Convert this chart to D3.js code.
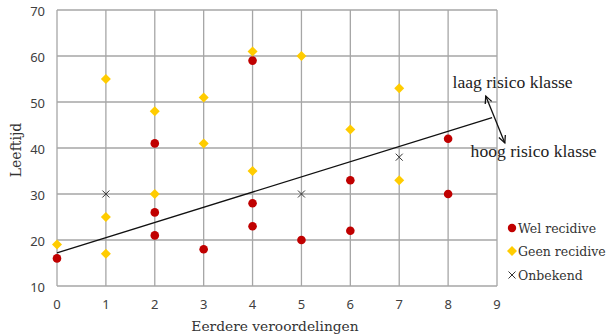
<!DOCTYPE html>
<html><head><meta charset="utf-8">
<script src="https://cdn.jsdelivr.net/npm/d3@7"></script>
<style>body{margin:0;background:#fff}svg{display:block}</style>
</head><body>
<svg id="c" width="609" height="336"></svg>
<script>
// Data
const welX = [0, 2, 2, 2, 3, 4, 4, 4, 5, 6, 6, 8, 8];
const welY = [16, 41, 26, 21, 18, 59, 28, 23, 20, 33, 22, 42, 30];
const geenX = [0, 1, 1, 1, 2, 2, 3, 3, 4, 4, 5, 6, 7, 7];
const geenY = [19, 55, 25, 17, 48, 30, 51, 41, 61, 35, 60, 44, 53, 33];
const onbX = [1, 5, 7];
const onbY = [30, 30, 38];
const trendX = [0, 8.9];
const trendY = [17.2, 46.6];
const xTicks = [0,1,2,3,4,5,6,7,8,9];
const yTicks = [10,20,30,40,50,60,70];
const legendLabels = ["Wel recidive", "Geen recidive", "Onbekend"];

const svg = d3.select("#c");
const x = d3.scaleLinear().domain([0, 9]).range([57, 497]);
const y = d3.scaleLinear().domain([10, 70]).range([286, 10]);
const grid = "#a6a6a6";
const RED = "#c00000", YEL = "#ffcc00", DARK = "#333";

// grid
svg.append("g").selectAll("line").data(xTicks).join("line")
  .attr("x1", d => x(d)).attr("x2", d => x(d)).attr("y1", y(10)).attr("y2", y(70))
  .attr("stroke", grid).attr("stroke-width", 1.3);
svg.append("g").selectAll("line").data(yTicks).join("line")
  .attr("y1", d => y(d)).attr("y2", d => y(d)).attr("x1", x(0)).attr("x2", x(9))
  .attr("stroke", grid).attr("stroke-width", 1.3);

// tick labels
const tickFont = "'Noto Sans', sans-serif";
svg.append("g").selectAll("text").data(yTicks).join("text")
  .attr("x", 45).attr("y", d => y(d) + 6).attr("text-anchor", "end")
  .attr("font-family", tickFont).attr("font-size", 13).attr("fill", "#404040").text(d => d);
svg.append("g").selectAll("text").data(xTicks).join("text")
  .attr("x", d => x(d)).attr("y", 309).attr("text-anchor", "middle")
  .attr("font-family", tickFont).attr("font-size", 13).attr("fill", "#404040").text(d => d);

// axis titles
const titleFont = "'DejaVu Serif', serif";
svg.append("text").attr("x", 275).attr("y", 331).attr("text-anchor", "middle")
  .attr("font-family", titleFont).attr("font-size", 13.8).attr("fill", DARK).text("Eerdere veroordelingen");
svg.append("text").attr("transform", "translate(21,150) rotate(-90)").attr("text-anchor", "middle")
  .attr("font-family", titleFont).attr("font-size", 14).attr("fill", DARK).text("Leeftijd");

// trend line
svg.append("line").attr("x1", x(trendX[0])).attr("y1", y(trendY[0]))
  .attr("x2", x(trendX[1])).attr("y2", y(trendY[1])).attr("stroke", "#111").attr("stroke-width", 1.3);

// markers
svg.append("g").selectAll("circle").data(welX.map((d,i)=>[d, welY[i]])).join("circle")
  .attr("cx", d => x(d[0])).attr("cy", d => y(d[1])).attr("r", 4.3).attr("fill", RED);
const sq = d3.symbol().type(d3.symbolSquare).size(50);
svg.append("g").selectAll("path").data(geenX.map((d,i)=>[d, geenY[i]])).join("path")
  .attr("transform", d => `translate(${x(d[0])},${y(d[1])}) rotate(45)`)
  .attr("d", sq).attr("fill", YEL);
const cross = (g, cx, cy, s) => {
  g.append("path").attr("d", `M${cx-s},${cy-s}L${cx+s},${cy+s}M${cx-s},${cy+s}L${cx+s},${cy-s}`)
   .attr("stroke", DARK).attr("stroke-width", 1).attr("fill", "none");
};
const og = svg.append("g");
onbX.forEach((d,i) => cross(og, x(d), y(onbY[i]), 3.5));

// double arrow
const ax1 = x(8.77), ay1 = y(51.3), ax2 = x(9.16), ay2 = y(41.1);
svg.append("line").attr("x1", ax1).attr("y1", ay1).attr("x2", ax2).attr("y2", ay2)
  .attr("stroke", "#111").attr("stroke-width", 1.3);
const ang = Math.atan2(ay2 - ay1, ax2 - ax1);
const head = (px, py, a) => {
  const L = 8, w = 0.45;
  svg.append("path").attr("d",
    `M${px + L*Math.cos(a - w)},${py + L*Math.sin(a - w)}L${px},${py}L${px + L*Math.cos(a + w)},${py + L*Math.sin(a + w)}`)
    .attr("stroke", "#111").attr("stroke-width", 1.3).attr("fill", "none");
};
head(ax1, ay1, ang);
head(ax2, ay2, ang + Math.PI);

// annotations
const annFont = "'Liberation Serif', serif";
svg.append("text").attr("x", x(8.09)).attr("y", y(53.0)).attr("font-family", annFont)
  .attr("font-size", 17.6).attr("fill", "#222").text("laag risico klasse");
svg.append("text").attr("x", x(8.46)).attr("y", y(38.0)).attr("font-family", annFont)
  .attr("font-size", 17.6).attr("fill", "#222").text("hoog risico klasse");

// legend
const lg = svg.append("g");
const lx = 512, ly = [228, 251, 275];
lg.append("circle").attr("cx", lx).attr("cy", ly[0]).attr("r", 4.2).attr("fill", RED);
lg.append("path").attr("transform", `translate(${lx},${ly[1]}) rotate(45)`)
  .attr("d", sq).attr("fill", YEL);
cross(lg, lx, ly[2], 3.5);
lg.selectAll("text").data(legendLabels).join("text")
  .attr("x", 518).attr("y", (d,i) => ly[i] + 5).attr("font-family", titleFont)
  .attr("font-size", 12.5).attr("fill", DARK).text(d => d);
</script>
</body></html>
